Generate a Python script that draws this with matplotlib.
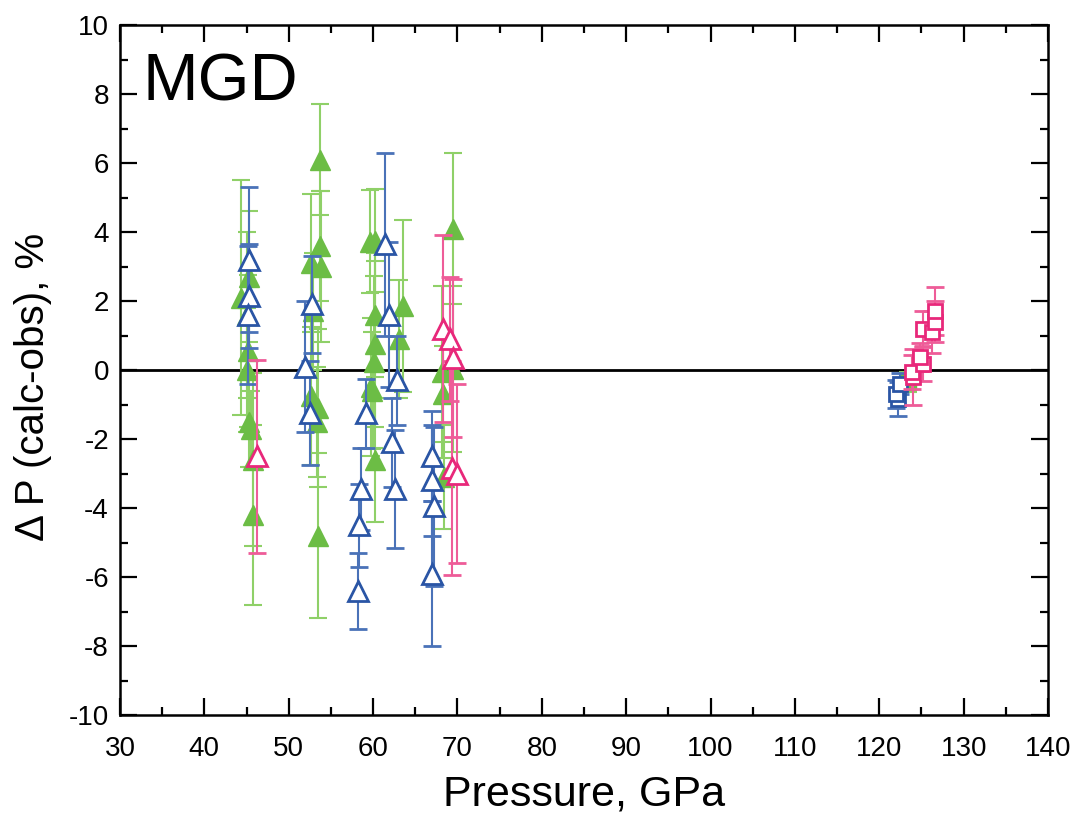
import numpy as np
import matplotlib
matplotlib.use("Agg")
import matplotlib.pyplot as plt
from matplotlib.ticker import MultipleLocator

plt.rcParams['font.family'] = ['Liberation Sans', 'DejaVu Sans']
plt.rcParams['axes.unicode_minus'] = False

# green filled triangles
g_tri_x = [44.3, 45.3, 45.1, 45.2, 45.0, 45.3, 45.5, 45.8, 45.8,
           53.7, 53.7, 52.6, 53.8, 52.9, 52.6, 53.5, 53.3, 53.5,
           59.6, 60.2, 60.2, 63.5, 60.2, 63.1, 60.1, 59.8, 59.9, 60.2,
           69.5, 68.2, 69.5, 68.3, 68.4]
g_tri_y = [2.1, 2.7, 1.6, 0.55, 0.0, -1.5, -1.7, -2.6, -4.2,
           6.1, 3.6, 3.1, 3.0, 1.7, -0.76, -1.1, -1.5, -4.8,
           3.72, 3.75, 1.6, 1.86, 0.76, 0.9, 0.23, -0.5, -0.6, -2.6,
           4.1, -0.06, 0.03, -0.7, -3.1]
g_tri_e = [3.4, 1.9, 2.4, 2.2, 1.8, 1.3, 1.1, 2.5, 2.6,
           1.6, 1.6, 2.0, 2.2, 1.7, 2.0, 2.3, 1.6, 2.4,
           1.5, 1.5, 1.8, 2.5, 2.4, 1.7, 2.5, 2.0, 1.7, 1.8,
           2.2, 2.5, 2.4, 1.4, 1.5]

# blue open triangles
b_tri_x = [45.3, 45.3, 45.2, 52.8, 51.9, 52.5, 61.4, 61.9, 62.8, 59.2,
           62.2, 58.6, 62.6, 58.3, 58.2, 67.0, 67.0, 67.2, 67.0]
b_tri_y = [3.2, 2.15, 1.6, 1.9, 0.1, -1.25, 3.65, 1.6, -0.3, -1.25,
           -2.1, -3.45, -3.45, -4.5, -6.4, -2.5, -3.2, -3.95, -5.9]
b_tri_e = [2.1, 1.5, 2.0, 1.4, 1.9, 1.5, 2.65, 2.1, 1.3, 1.0,
           1.3, 1.2, 1.7, 1.2, 1.1, 1.3, 1.6, 2.3, 2.1]

# pink open triangles
p_tri_x = [46.2, 68.3, 69.1, 69.5, 69.4, 69.9]
p_tri_y = [-2.5, 1.2, 0.9, 0.35, -2.85, -3.0]
p_tri_e = [2.8, 2.7, 1.8, 2.3, 3.1, 2.6]

# squares near 120-130 GPa
b_sq_x = [122.2, 122.0, 122.5]
b_sq_y = [-0.84, -0.7, -0.4]
b_sq_e = [0.5, 0.4, 0.3]

g_sq_x = [123.4]
g_sq_y = [-0.35]
g_sq_e = [0.3]

p_sq_x = [124.0, 123.9, 125.2, 124.8, 125.2, 126.2, 126.6, 126.6]
p_sq_y = [-0.2, -0.05, 0.17, 0.38, 1.2, 1.1, 1.4, 1.72]
p_sq_e = [0.8, 0.5, 0.5, 0.4, 0.5, 0.6, 0.6, 0.7]

green = '#6cbd45'
green_bar = '#8fd068'
blue = '#2a55a5'
blue_bar = '#4a72b8'
pink = '#e8287a'
pink_bar = '#ee5c98'

fig = plt.figure(figsize=(10.83, 8.21), dpi=100)
ax = fig.add_axes([0.1108, 0.1291, 0.8569, 0.8404])

ax.axhline(0, color='black', lw=2, zorder=1)

eb = dict(ls='none', capsize=6.5, elinewidth=1.5, capthick=1.5)
ax.errorbar(g_tri_x, g_tri_y, yerr=g_tri_e, fmt='^', ms=15, mfc=green, mec=green,
            ecolor=green_bar, zorder=3, **eb)
ax.errorbar(b_tri_x, b_tri_y, yerr=b_tri_e, fmt='^', ms=14, mfc='white', mec=blue, mew=2,
            ecolor=blue_bar, zorder=4, **eb)
ax.errorbar(p_tri_x, p_tri_y, yerr=p_tri_e, fmt='^', ms=14, mfc='white', mec=pink, mew=2,
            ecolor=pink_bar, zorder=4, **eb)
ax.errorbar(b_sq_x, b_sq_y, yerr=b_sq_e, fmt='s', ms=10, mfc='white', mec=blue, mew=2,
            ecolor=blue_bar, zorder=4, **eb)
ax.errorbar(g_sq_x, g_sq_y, yerr=g_sq_e, fmt='s', ms=12, mfc=green, mec=green,
            ecolor=green_bar, zorder=3, **eb)
ax.errorbar(p_sq_x, p_sq_y, yerr=p_sq_e, fmt='s', ms=10, mfc='white', mec=pink, mew=2,
            ecolor=pink_bar, zorder=5, **eb)

ax.set_xlim(30, 140)
ax.set_ylim(-10, 10)
ax.xaxis.set_major_locator(MultipleLocator(10))
ax.xaxis.set_minor_locator(MultipleLocator(5))
ax.yaxis.set_major_locator(MultipleLocator(2))
ax.yaxis.set_minor_locator(MultipleLocator(1))
ax.tick_params(which='both', direction='in', top=True, right=True, width=1.6, labelsize=20)
ax.tick_params(which='major', length=12)
ax.tick_params(which='minor', length=6)
ax.tick_params(axis='x', which='major', pad=15)
ax.tick_params(axis='y', which='major', pad=8)
for s in ax.spines.values():
    s.set_linewidth(1.8)

ax.set_xlabel('Pressure, GPa', fontsize=31, labelpad=9)
ax.set_ylabel('\u0394 P (calc-obs), %', fontsize=29)
ax.yaxis.set_label_coords(-0.073, 0.475)
ax.text(0.024, 0.89, 'MGD', transform=ax.transAxes, fontsize=48, va='baseline', ha='left')

fig.savefig('out.png', dpi=100)
